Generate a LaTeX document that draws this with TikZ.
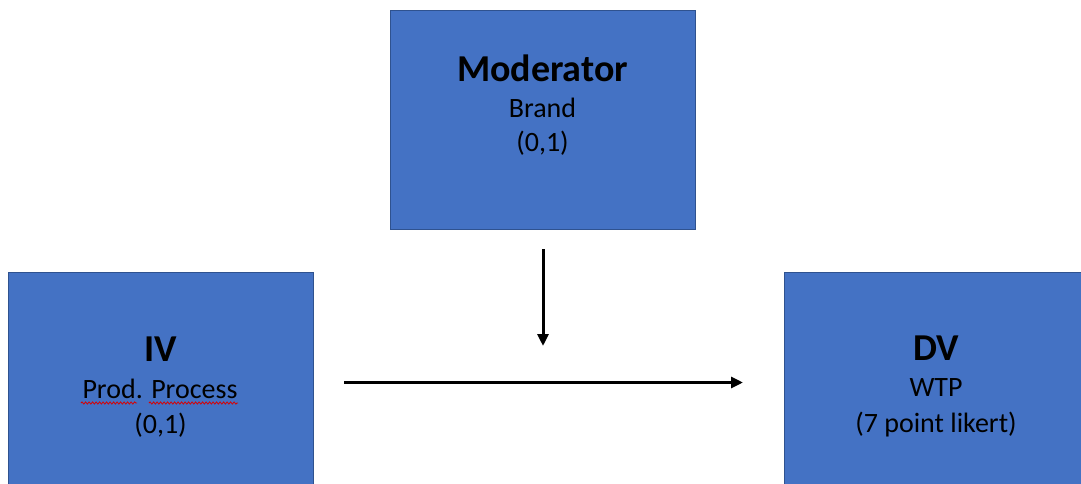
\documentclass[tikz,border=0pt]{standalone}
\usepackage{fontspec}
\setmainfont{Carlito}
\usetikzlibrary{arrows.meta,decorations.pathmorphing}
\definecolor{boxfill}{HTML}{4472C4}
\definecolor{boxline}{HTML}{2F528F}
\tikzset{
  varbox/.style={draw=boxline, line width=1pt, fill=boxfill, minimum width=305pt, minimum height=218pt, inner sep=0pt, outer sep=0pt},
  headtxt/.style={anchor=base, inner sep=0pt, font=\fontsize{38}{42}\selectfont\bfseries},
  subtxt/.style={anchor=base, inner sep=0pt, font=\fontsize{28}{32}\selectfont},
  link/.style={line width=3pt, -{Triangle[length=12pt,width=11pt]}},
  spell/.style={draw=red!85!black, line width=0.8pt, decorate, decoration={snake, amplitude=1.1pt, segment length=3.5pt}}
}
\begin{document}
\begin{tikzpicture}[x=1pt,y=-1pt]
\useasboundingbox (0,0) rectangle (1081,484);
\begin{scope}
\clip (0,0) rectangle (1081,484);
\node[varbox] (mod) at (542.5,120) {};
\node[varbox] (iv) at (160.5,381) {};
\node[varbox] (dv) at (936.5,381) {};
\end{scope}
\node[headtxt] (modh) at (542.5,82) {Moderator};
\node[subtxt] (mods) at (542.5,118) {Brand};
\node[subtxt] (modv) at (542.5,151) {(0,1)};
\node[headtxt] (ivh) at (160.5,361.5) {IV};
\node[subtxt] (ivs) at (160,398) {Prod. Process};
\node[subtxt] (ivv) at (160.5,433) {(0,1)};
\node[headtxt] (dvh) at (936,360) {DV};
\node[subtxt] (dvs) at (936,396) {WTP};
\node[subtxt] (dvv) at (936,432.5) {(7 point likert)};
\coordinate (sq1a) at (81,403);
\coordinate (sq1b) at (137,403);
\coordinate (sq2a) at (149,403);
\coordinate (sq2b) at (238,403);
\path[spell] (sq1a) -- (sq1b);
\path[spell] (sq2a) -- (sq2b);
\coordinate (va) at (543,249);
\coordinate (vb) at (543,346);
\coordinate (ha) at (344,382.5);
\coordinate (hb) at (743,382.5);
\draw[link] (va) -- (vb);
\draw[link] (ha) -- (hb);
\end{tikzpicture}
\end{document}
